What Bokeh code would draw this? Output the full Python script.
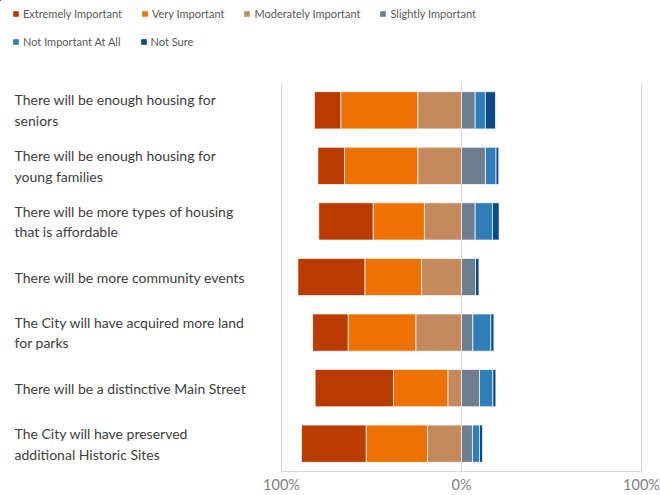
from bokeh.plotting import figure
from bokeh.layouts import column
from bokeh.models import ColumnDataSource, Range1d, FixedTicker, Legend, LegendItem
from bokeh.embed import file_html
from bokeh.resources import INLINE
from bokeh.core.properties import value

# ---- data (percent of respondents) ----
categories = [
    "There will be enough housing for\nseniors",
    "There will be enough housing for\nyoung families",
    "There will be more types of housing\nthat is affordable",
    "There will be more community events",
    "The City will have acquired more land\nfor parks",
    "There will be a distinctive Main Street",
    "The City will have preserved\nadditional Historic Sites",
]
extremely_important = [14.6, 14.8, 30.2, 37.2, 19.7, 43.5, 35.9]
very_important = [42.8, 40.7, 28.5, 31.5, 37.6, 30.2, 34.1]
moderately_important = [24.3, 24.3, 20.6, 22.2, 25.4, 7.6, 18.9]
slightly_important = [7.6, 13.3, 7.6, 7.8, 6.3, 10.0, 6.1]
not_important_at_all = [5.7, 5.9, 9.6, 0.0, 10.0, 7.4, 3.9]
not_sure = [5.6, 1.5, 3.7, 1.9, 1.7, 1.7, 1.7]

series_names = ["Extremely Important", "Very Important", "Moderately Important",
                "Slightly Important", "Not Important At All", "Not Sure"]
series_colors = ["#BA3B00", "#EE7203", "#C48A5D", "#6F7E8F", "#2F7EB9", "#0A4B86"]

tick_values = [-100, 0, 100]
tick_labels = ["100%", "0%", "100%"]

FONT = "Lato"
LABEL_X = -248.3
W = 660
LEGEND_H = 82
CHART_H = 413
BAR_H = 0.67

n = len(categories)
rows = list(range(n))
src = ColumnDataSource(dict(
    y=rows,
    label=categories,
    label_x=[LABEL_X] * n,
    ei_neg=[-v for v in extremely_important],
    vi_neg=[-v for v in very_important],
    mi_neg=[-v for v in moderately_important],
    si=slightly_important,
    nia=not_important_at_all,
    ns=not_sure,
))
left_stack = ["mi_neg", "vi_neg", "ei_neg"]
left_colors = [series_colors[2], series_colors[1], series_colors[0]]
right_stack = ["si", "nia", "ns"]
right_colors = [series_colors[3], series_colors[4], series_colors[5]]

# ---------------- chart ----------------
p = figure(
    width=W, height=CHART_H,
    x_range=Range1d(-256.11, 110.56),
    y_range=Range1d(n - 0.5, -0.5),
    output_backend="svg", toolbar_location=None,
    y_axis_location=None,
    min_border_left=0, min_border_right=0, min_border_top=0, min_border_bottom=0,
    outline_line_color=None,
)

p.hbar_stack(left_stack, y="y", height=BAR_H, color=left_colors,
             line_color="white", line_width=0.7, source=src)
p.hbar_stack(right_stack, y="y", height=BAR_H, color=right_colors,
             line_color="white", line_width=0.7, source=src)

p.text(x="label_x", y="y", text="label", source=src, text_align="left",
       text_baseline="middle", text_font=value(FONT), text_font_size="14px",
       text_color="#404040", text_line_height=1.22)

ticker = FixedTicker(ticks=tick_values)
p.xaxis.ticker = ticker
p.xaxis.major_label_overrides = {t: l for t, l in zip(tick_values, tick_labels)}
p.xaxis.bounds = (-100, 100)
p.xaxis.axis_line_color = "#d9d9d9"
p.xaxis.major_tick_line_color = None
p.xaxis.minor_tick_line_color = None
p.xaxis.major_tick_out = 0
p.xaxis.minor_tick_out = 0
p.xaxis.major_label_standoff = 4
p.xaxis.major_label_text_font = FONT
p.xaxis.major_label_text_font_size = "14.5px"
p.xaxis.major_label_text_color = "#7f7f7f"

p.xgrid.ticker = ticker
p.xgrid.grid_line_color = "#d9d9d9"
p.ygrid.grid_line_color = None

# ---------------- legend strip ----------------
# Same series in a strip whose ranges lie away from the data, so only the
# legend (which needs renderers holding data) is visible there.
lg = figure(
    width=W, height=LEGEND_H,
    x_range=Range1d(500, 600), y_range=Range1d(-30, -20),
    output_backend="svg", toolbar_location=None,
    x_axis_location=None, y_axis_location=None,
    min_border_left=0, min_border_right=0, min_border_top=0, min_border_bottom=0,
    outline_line_color=None,
)
lg.xgrid.visible = False
lg.ygrid.visible = False
lg_left = lg.hbar_stack(left_stack, y="y", height=BAR_H, color=left_colors,
                        line_color=None, source=src)
lg_right = lg.hbar_stack(right_stack, y="y", height=BAR_H, color=right_colors,
                         line_color=None, source=src)
swatches = [lg_left[2], lg_left[1], lg_left[0], lg_right[0], lg_right[1], lg_right[2]]
items = [LegendItem(label=nm, renderers=[r]) for nm, r in zip(series_names, swatches)]

legend_style = dict(
    orientation="horizontal",
    glyph_width=7, glyph_height=7, label_standoff=4,
    label_height=14, spacing=19, padding=0, margin=0,
    label_text_font=FONT, label_text_font_size="11px", label_text_color="#595959",
    border_line_color=None, background_fill_alpha=0,
)
# locations: (left, bottom) in the strip's y-up pixels
lg.add_layout(Legend(items=items[:4], location=(12, LEGEND_H - 20), **legend_style), "center")
lg.add_layout(Legend(items=items[4:], location=(12, LEGEND_H - 48), **legend_style), "center")

layout = column(lg, p, spacing=0)
open("out.html", "w").write(file_html(layout, INLINE))
